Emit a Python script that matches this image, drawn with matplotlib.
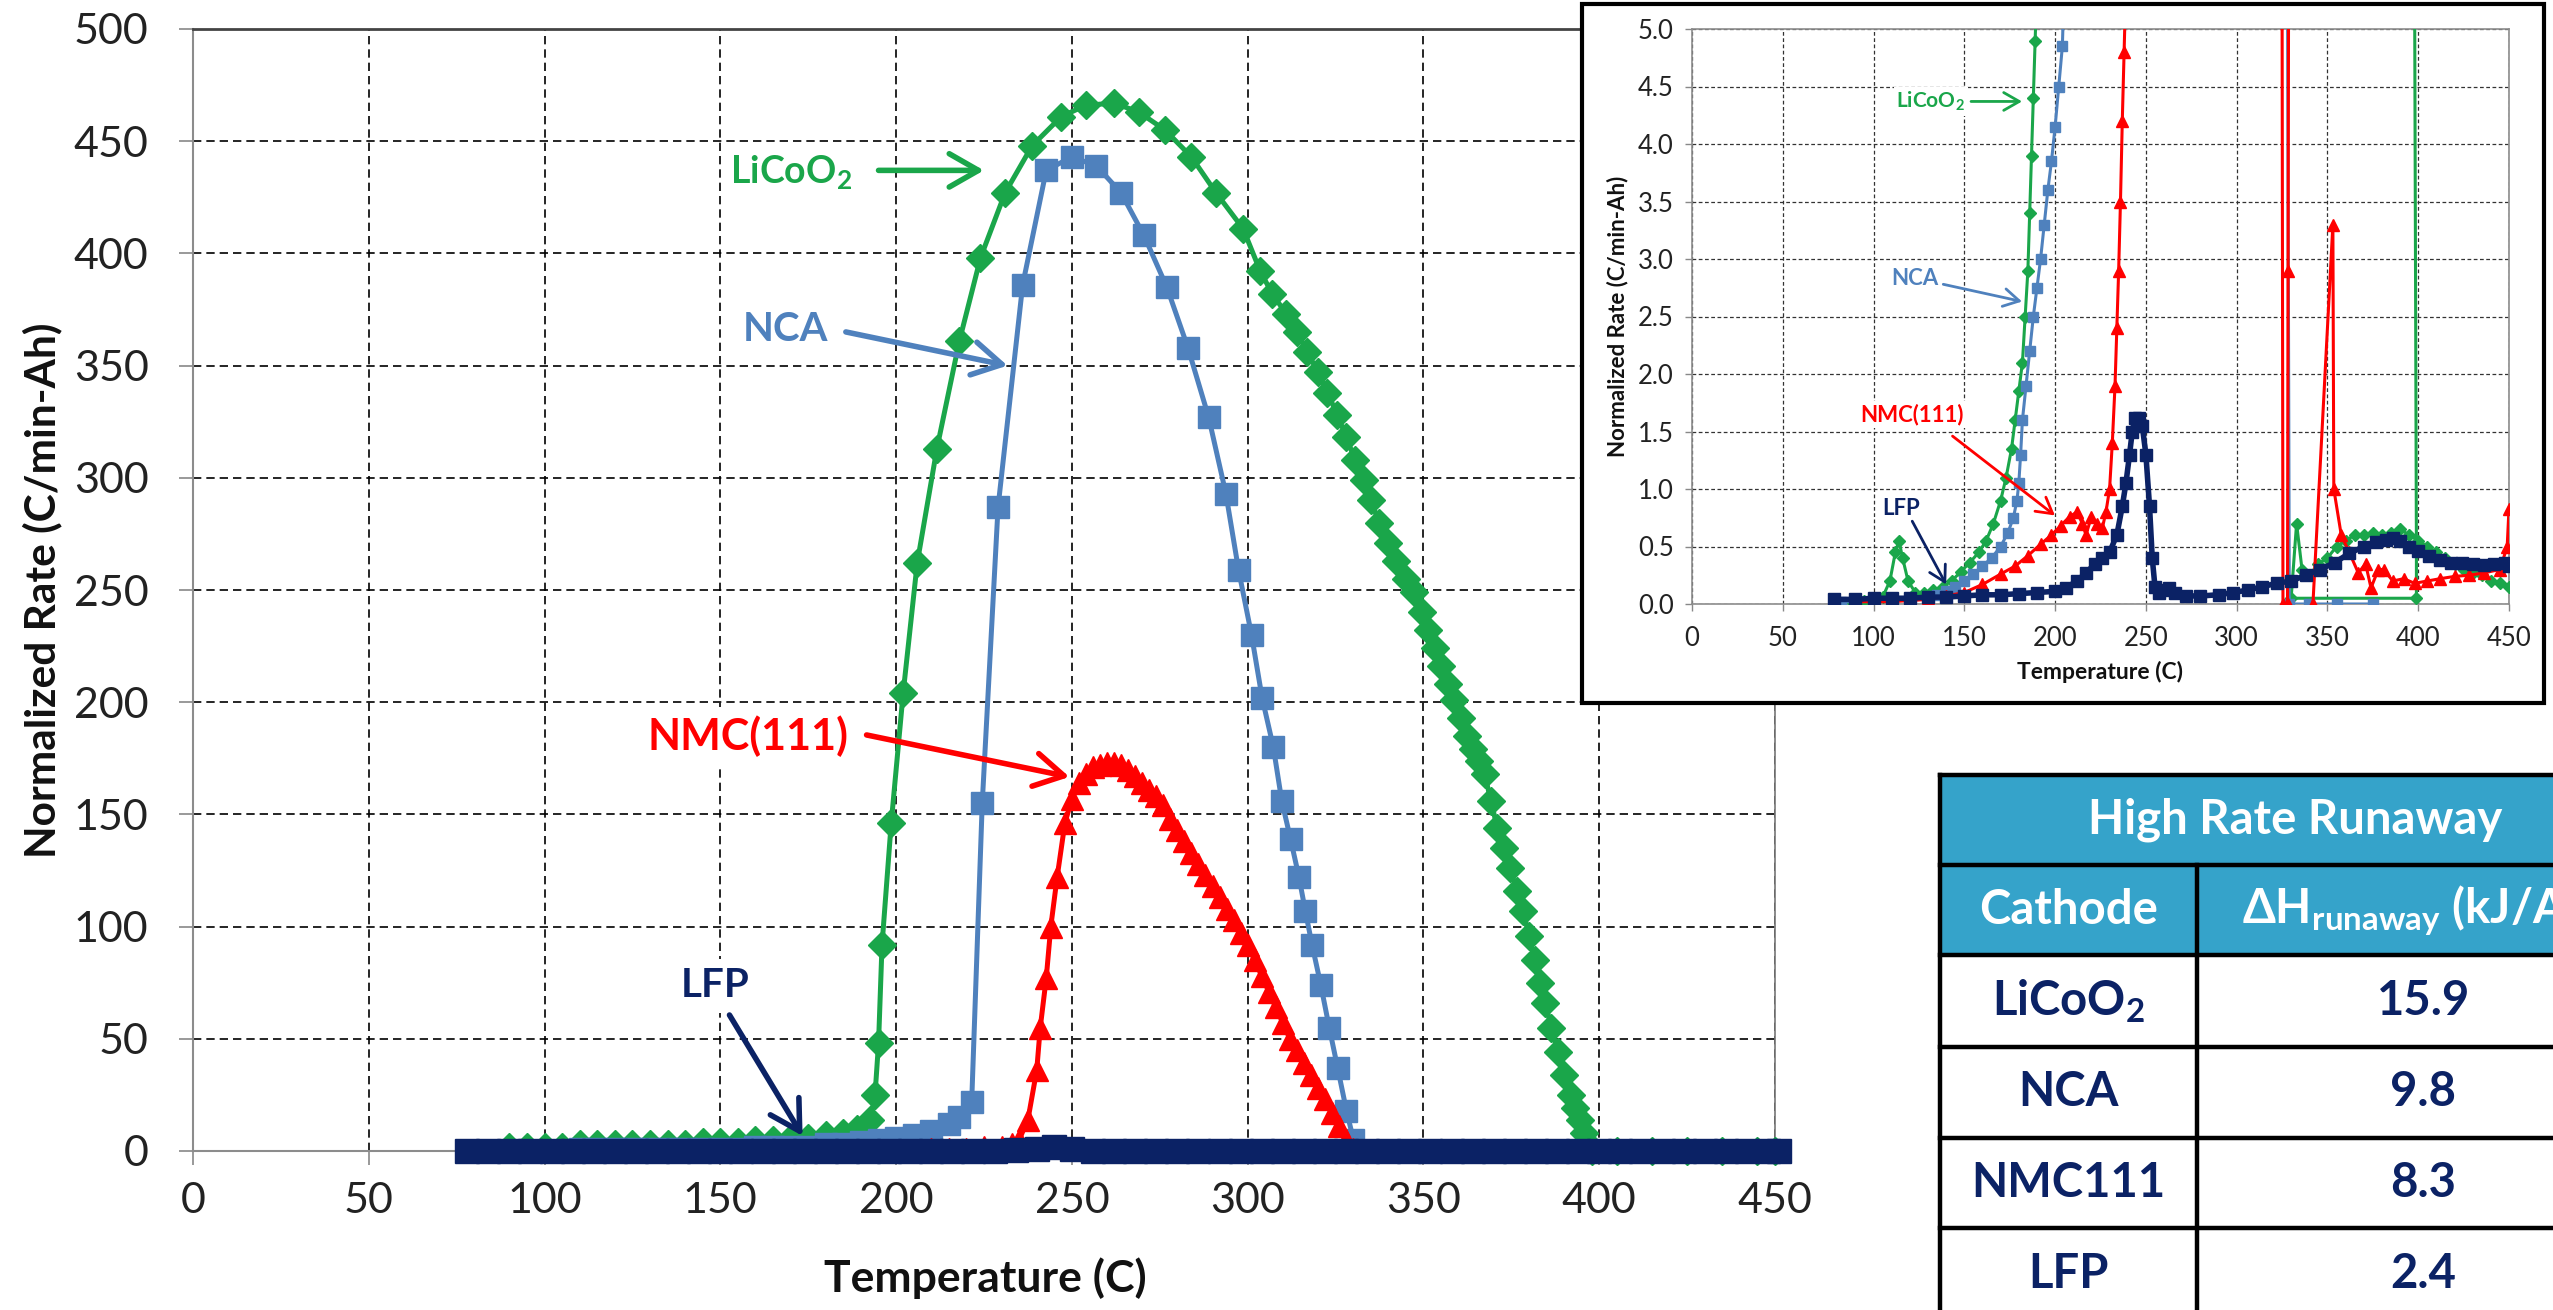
import matplotlib.pyplot as plt
from matplotlib.patches import Rectangle

plt.rcParams['font.family'] = ['Lato', 'DejaVu Sans']
plt.rcParams['mathtext.fontset'] = 'custom'
plt.rcParams['mathtext.rm'] = 'Lato'
plt.rcParams['mathtext.bf'] = 'Lato:bold'

GREEN = '#1aa64a'
BLUE = '#4f81bd'
RED = '#ff0000'
NAVY = '#0b2265'
HEAD = '#35a3ca'

# ---------------- main chart data (Temperature C, rate C/min-Ah) ----------------
lco_T = [90, 95, 100, 105, 110, 115, 120, 125, 130, 135, 140, 145, 150, 155, 160, 165, 170, 175, 180, 185,
         189, 192.7, 194, 195, 196, 198.6, 202, 206, 211.6, 218, 224, 231, 238.7, 247, 254, 262, 269, 276.5,
         284, 291, 298.7, 303.6, 307, 311, 314, 317, 320, 322.7, 325.5, 328.1, 330.5, 333, 335, 337.4, 340,
         342.3, 345, 347.3, 349.5, 351.4, 353.3, 355.1, 357, 358.8, 360.6, 362.5, 364, 365.7, 367.4, 369.2,
         371, 372.8, 374.7, 376.5, 378.4, 380, 381.6, 383.1, 384.6, 386.4, 388.2, 390, 391.9, 393.2, 394.4,
         395.6, 396.8, 398, 405, 415, 425, 435, 445, 450]
lco_rate = [2, 2, 2, 2, 3, 3, 3, 3, 3, 3, 3, 4, 4, 4, 5, 5, 6, 6, 7, 8,
            10, 14, 25, 48, 92, 146, 204, 262, 313, 361, 398, 427, 448, 461, 466, 467, 463, 455,
            443, 427, 411, 392, 382, 373, 365, 356, 347, 338, 328, 318, 308, 299, 290, 280, 271,
            263, 255, 249, 240, 232, 224, 216, 208, 201, 193, 185, 179, 174, 168, 156,
            144, 135, 126, 116, 107, 96, 85, 75, 66, 55, 44, 34, 25, 19, 14,
            8, 3, 0, 0, 0, 0, 0, 0, 0]

nca_T = [80, 85, 90, 95, 100, 105, 110, 115, 120, 125, 130, 135, 140, 145, 150, 155, 160, 165, 170, 175,
         180, 185, 190, 195, 200, 205, 210, 215, 218, 221.5, 224.5, 229, 236, 242.7, 250, 257, 264, 270.5,
         277, 283, 288.9, 293.8, 297.4, 301.1, 304.1, 307.3, 309.7, 312.2, 314.6, 316.4, 318.3, 320.8, 323.2,
         325.6, 328.1, 330.1, 332, 340, 350, 360, 370]
nca_rate = [0, 0, 0, 0, 0, 0, 1, 1, 1, 1, 1, 1, 1, 1, 1, 1, 2, 2, 2, 2,
            3, 3, 4, 5, 6, 7, 9, 12, 15, 22, 155, 287, 386, 437, 443, 439, 427, 408,
            385, 358, 327, 293, 259, 230, 202, 180, 156, 139, 122, 107, 92, 74, 55,
            37, 18, 5, 0, 0, 0, 0, 0]

nmc_T = [85, 90, 95, 100, 105, 110, 115, 120, 125, 130, 135, 140, 145, 150, 155, 160, 165, 170, 175, 180,
         185, 190, 195, 200, 205, 210, 215, 220, 225, 230,
         233, 235, 237.5, 240, 241, 242.7, 244, 245.8, 248, 250, 252, 254, 256, 258, 260, 262, 264, 266, 268,
         270, 272, 274, 276, 278, 280, 282, 284, 286, 288, 290, 292, 294, 296, 298, 300, 302, 304, 306, 308,
         310, 312, 314, 316, 318, 320, 322, 324, 326, 328, 330, 340, 350, 360, 370, 380, 390, 400, 410, 420,
         430, 440, 450]
nmc_rate = [0, 0, 0, 0, 0, 0, 0, 0, 0, 0, 0, 0, 0, 0, 0, 0, 0, 0, 0, 0,
            0, 0, 0, 0, 0, 1, 1, 1, 2, 2,
            3, 5, 14, 36, 55, 77, 100, 122, 146, 157, 164, 168, 171, 172, 173, 173, 172, 170, 167,
            164, 161, 158, 154, 148, 143, 138, 133, 128, 123, 118, 113, 108, 103, 97, 92, 85, 78, 71, 64,
            57, 50, 45, 39, 34, 28, 23, 17, 11, 5, 1, 0, 0, 0, 0, 0, 0, 0, 0, 0,
            0, 0, 0]

lfp_T = [78, 84, 90, 96, 102, 108, 114, 120, 126, 132, 138, 144, 150, 156, 162, 168, 174, 180, 186, 192,
         198, 204, 210, 216, 222, 228, 234, 240, 245, 250, 256, 262, 268, 274, 280, 286, 292, 298, 304, 310,
         316, 322, 328, 334, 340, 346, 352, 358, 364, 370, 376, 382, 388, 394, 400, 406, 412, 418, 424, 430,
         436, 442, 448, 451]
lfp_rate = [0, 0, 0, 0, 0, 0, 0, 0, 0, 0, 0, 0, 0, 0, 0, 0, 0, 0, 0, 0,
            0, 0, 0, 0, 0, 0, 0.5, 1, 2, 1, 0, 0, 0, 0, 0, 0, 0, 0, 0, 0,
            0, 0, 0, 0, 0, 0, 0, 0, 0, 0, 0, 0, 0, 0, 0, 0, 0, 0, 0, 0,
            0, 0, 0, 0]

# ---------------- inset data (zoom 0-5 C/min-Ah) ----------------
nan = float('nan')
in_lco_T = [88, 95, 100, 105, 109, 112, 114, 116, 119, 123, 128, 133, 138, 143, 148, 153, 158, 162, 166, 170,
            173, 176, 178, 180, 182, 183.5, 185, 186, 187, 188, 189, 190,
            398, 399, 399, 330, 333, 336, 340, 345, 350, 355, 360, 365, 370, 375, 380, 385, 390, 395, 400,
            405, 410, 415, 420, 425, 430, 435, 440, 445, 450]
in_lco_rate = [0.02, 0.03, 0.04, 0.06, 0.2, 0.45, 0.55, 0.4, 0.2, 0.1, 0.1, 0.12, 0.15, 0.2, 0.28, 0.36, 0.45,
               0.55, 0.7, 0.9, 1.1, 1.35, 1.6, 1.85, 2.1, 2.5, 2.9, 3.4, 3.9, 4.4, 4.9, 5.4,
               5.4, 0.5, 0.05, 0.05, 0.7, 0.3, 0.25, 0.35, 0.4, 0.5, 0.55, 0.6, 0.6, 0.62, 0.6, 0.62, 0.65,
               0.6, 0.55, 0.5, 0.45, 0.4, 0.35, 0.3, 0.27, 0.25, 0.2, 0.18, 0.15]

in_nca_T = [82, 90, 100, 110, 120, 130, 135, 140, 145, 150, 155, 160, 165, 170, 174, 177, 179, 180, 181, 182,
            184, 186, 188, 190, 192, 194, 196, 198, 200, 202, 204, 205,
            328, 329, 340, 355, 375]
in_nca_rate = [0.02, 0.02, 0.03, 0.03, 0.04, 0.06, 0.08, 0.11, 0.15, 0.2, 0.26, 0.33, 0.4, 0.5, 0.62, 0.75,
               0.9, 1.05, 1.3, 1.6, 1.9, 2.2, 2.5, 2.75, 3.0, 3.3, 3.6, 3.85, 4.15, 4.5, 4.85, 5.4,
               5.4, 0.0, 0.0, 0.0, 0.0]

in_nmc_T = [90, 100, 110, 120, 130, 140, 150, 160, 170, 178, 185, 192, 198, 203, 208, 212, 215, 217, 220, 223,
            226, 228, 230, 231.5, 233, 234, 235, 236, 237, 238, 239,
            325, 325.5, 328, 328.3, 328.6, nan,
            342, 353, 353.5, 357.6, 362, 367, 371, 374, 378, 381, 386, 392, 398, 405, 412, 420, 428, 436,
            445, 449, 450]
in_nmc_rate = [0.02, 0.02, 0.02, 0.03, 0.04, 0.07, 0.1, 0.17, 0.26, 0.33, 0.42, 0.52, 0.6, 0.68, 0.76, 0.8,
               0.7, 0.6, 0.76, 0.7, 0.66, 0.8, 1.0, 1.4, 1.9, 2.4, 2.9, 3.5, 4.2, 4.8, 5.4,
               5.4, 0.0, 0.0, 2.9, 5.4, nan,
               0.0, 3.3, 1.0, 0.6, 0.45, 0.27, 0.35, 0.14, 0.3, 0.3, 0.2, 0.22, 0.18, 0.2, 0.22, 0.24, 0.25,
               0.27, 0.3, 0.5, 0.83]

in_lfp_T = [78, 90, 100, 110, 120, 130, 140, 150, 160, 170, 180, 190, 200, 206, 212, 217, 222, 226, 230, 234,
            237, 239, 241, 242.5, 244, 246, 248, 250, 252, 253.5, 255, 257, 260, 263, 266, 272, 280, 290, 298,
            306, 314, 322, 330, 338, 346, 354, 362, 370, 377, 382, 386, 390, 395, 400, 406, 412, 418, 424, 430,
            436, 442, 448, 450]
in_lfp_rate = [0.04, 0.04, 0.05, 0.05, 0.05, 0.06, 0.06, 0.07, 0.08, 0.08, 0.09, 0.1, 0.11, 0.14, 0.2, 0.27,
               0.35, 0.4, 0.45, 0.6, 0.85, 1.05, 1.3, 1.5, 1.62, 1.62, 1.55, 1.3, 0.85, 0.4, 0.15, 0.1, 0.12,
               0.14, 0.1, 0.07, 0.07, 0.08, 0.1, 0.12, 0.15, 0.18, 0.2, 0.25, 0.3, 0.36, 0.44, 0.5, 0.54, 0.56,
               0.57, 0.55, 0.5, 0.46, 0.42, 0.38, 0.36, 0.36, 0.35, 0.34, 0.35, 0.36, 0.33]

# ---------------- table ----------------
table_title = 'High Rate Runaway'
table_cols = ['Cathode', 'ΔH$_{\\mathbf{runaway}}$ (kJ/Ah)']
cathodes = ['LiCoO$_{\\mathbf{2}}$', 'NCA', 'NMC111', 'LFP']
dh_runaway = [15.9, 9.8, 8.3, 2.4]

W, H = 2553, 1310
fig = plt.figure(figsize=(W / 100, H / 100), dpi=100)


def fx(px):
    return px / W


def fy(py):
    return 1 - py / H


def label(axis, x, y, txt, color, size, bbox_pad):
    axis.text(x, y, txt, color=color, fontsize=size, fontweight='bold', ha='center', va='center',
              bbox=dict(facecolor='white', edgecolor='none', pad=bbox_pad), zorder=7)


def arrow(axis, xy0, xy1, color, lw, scale):
    axis.annotate('', xy=xy1, xytext=xy0,
                  arrowprops=dict(arrowstyle='->,head_length=0.7,head_width=0.4', color=color,
                                  lw=lw, mutation_scale=scale, shrinkA=0, shrinkB=0), zorder=8)


# ---------------- main axes ----------------
ax = fig.add_axes([fx(193), fy(1151), fx(1775) - fx(193), fy(29) - fy(1151)])
ax.set_zorder(1)
ax.set_xlim(0, 450)
ax.set_ylim(0, 500)
ax.set_xticks(range(0, 451, 50))
ax.set_yticks(range(0, 501, 50))
ax.set_axisbelow(True)
ax.grid(True, color='black', lw=1.2, linestyle=(0, (5, 3)))
ax.tick_params(axis='both', labelsize=31, labelcolor='#222222', color='#888888',
               length=10, width=1.2, direction='out')
ax.tick_params(axis='y', pad=22)
ax.tick_params(axis='x', pad=12)
for s in ['left', 'bottom']:
    ax.spines[s].set_color('#8c8c8c')
    ax.spines[s].set_linewidth(1.5)
ax.spines['top'].set_color('#444444')
ax.spines['top'].set_linewidth(2)
ax.spines['right'].set_color('#777777')
ax.spines['right'].set_linewidth(1.2)

ax.plot(lco_T, lco_rate, color=GREEN, lw=3.6, marker='D', ms=14, clip_on=False, zorder=3)
ax.plot(nca_T, nca_rate, color=BLUE, lw=3.6, marker='s', ms=16, clip_on=False, zorder=4)
ax.plot(nmc_T, nmc_rate, color=RED, lw=3.6, marker='^', ms=16, clip_on=False, zorder=5)
ax.plot(lfp_T, lfp_rate, color=NAVY, lw=4, marker='s', ms=17, clip_on=False, zorder=6)

fig.text(fx(42), fy(590), 'Normalized Rate (C/min-Ah)', rotation=90, ha='center', va='center',
         fontsize=30.5, fontweight='bold', color='#111111')
fig.text(fx(985), fy(1278), 'Temperature (C)', ha='center', va='center',
         fontsize=32, fontweight='bold', color='#111111')

label(ax, 170, 436, 'LiCoO$_{\\mathbf{2}}$', GREEN, 27, 6)
arrow(ax, (195, 437), (225, 437), GREEN, 4, 30)
label(ax, 168.5, 366, 'NCA', BLUE, 29, 6)
arrow(ax, (185.7, 365), (231.7, 350), BLUE, 4, 30)
label(ax, 158, 185, 'NMC(111)', RED, 31, 6)
arrow(ax, (191.6, 185.4), (249.3, 166.7), RED, 4, 30)
label(ax, 148.5, 73.6, 'LFP', NAVY, 29, 6)
arrow(ax, (152.6, 60.6), (173.4, 6.7), NAVY, 4, 30)

# ---------------- inset ----------------
fig.patches.append(Rectangle((fx(1582), fy(703)), fx(2544) - fx(1582), fy(4) - fy(703),
                             transform=fig.transFigure, facecolor='white', edgecolor='black',
                             lw=3, zorder=1.5))

axi = fig.add_axes([fx(1692), fy(604), fx(2509) - fx(1692), fy(29) - fy(604)])
axi.set_zorder(2)
axi.set_xlim(0, 450)
axi.set_ylim(0, 5)
axi.set_xticks(range(0, 451, 50))
axi.set_yticks([i * 0.5 for i in range(11)])
axi.set_yticklabels([f'{i * 0.5:.1f}' for i in range(11)])
axi.set_axisbelow(True)
axi.grid(True, color='#333333', lw=0.9, linestyle=(0, (3, 2)))
axi.tick_params(axis='both', labelsize=18.5, labelcolor='#222222', color='#888888',
                length=5, width=1, direction='out')
axi.tick_params(axis='y', pad=8)
axi.tick_params(axis='x', pad=11)
for s in ['left', 'bottom', 'right', 'top']:
    axi.spines[s].set_color('#8c8c8c')
    axi.spines[s].set_linewidth(1.2)

axi.plot(in_lco_T, in_lco_rate, color=GREEN, lw=2.2, marker='D', ms=6, zorder=3)
axi.plot(in_nca_T, in_nca_rate, color=BLUE, lw=2.2, marker='s', ms=7, zorder=4)
axi.plot(in_nmc_T, in_nmc_rate, color=RED, lw=2.2, marker='^', ms=8, zorder=5)
axi.plot(in_lfp_T, in_lfp_rate, color=NAVY, lw=4, marker='s', ms=8, zorder=6)

fig.text(fx(1618), fy(316), 'Normalized Rate (C/min-Ah)', rotation=90, ha='center', va='center',
         fontsize=16, fontweight='bold', color='#111111')
fig.text(fx(2100), fy(672), 'Temperature (C)', ha='center', va='center',
         fontsize=16.5, fontweight='bold', color='#111111')

label(axi, 131.5, 4.37, 'LiCoO$_{\\mathbf{2}}$', GREEN, 15, 2)
arrow(axi, (153.7, 4.37), (181.8, 4.37), GREEN, 2, 16)
label(axi, 123, 2.83, 'NCA', BLUE, 16, 2)
arrow(axi, (138.4, 2.78), (181.8, 2.63), BLUE, 2, 16)
label(axi, 121.3, 1.65, 'NMC(111)', RED, 16, 2)
arrow(axi, (143.5, 1.46), (199.9, 0.77), RED, 2, 16)
label(axi, 115, 0.83, 'LFP', NAVY, 16, 2)
arrow(axi, (121.3, 0.72), (140, 0.17), NAVY, 2, 16)

# ---------------- table (drawn in pixel coordinates) ----------------
axt = fig.add_axes([0, 0, 1, 1])
axt.set_zorder(3)
axt.set_xlim(0, W)
axt.set_ylim(H, 0)
axt.axis('off')
axt.patch.set_alpha(0)

t_left, t_mid, t_right = 1940, 2197, 2650
rows = [775, 865, 955, 1047, 1138, 1228, 1319]
axt.add_patch(Rectangle((t_left, rows[0]), t_right - t_left, rows[2] - rows[0],
                        facecolor=HEAD, edgecolor='none'))
for y in rows:
    axt.plot([t_left, t_right], [y, y], color='black', lw=3.2, solid_capstyle='projecting')
axt.plot([t_left, t_left], [rows[0], rows[-1]], color='black', lw=3.2)
axt.plot([t_mid, t_mid], [rows[1], rows[-1]], color='black', lw=3.2)

c1 = (t_left + t_mid) / 2
c2 = (t_mid + t_right) / 2
axt.text((t_left + t_right) / 2, (rows[0] + rows[1]) / 2, table_title, color='white',
         fontsize=34, fontweight='bold', ha='center', va='center')
axt.text(c1, (rows[1] + rows[2]) / 2, table_cols[0], color='white',
         fontsize=34, fontweight='bold', ha='center', va='center')
axt.text(c2, (rows[1] + rows[2]) / 2, table_cols[1], color='white',
         fontsize=34, fontweight='bold', ha='center', va='center')
for i, (name, val) in enumerate(zip(cathodes, dh_runaway)):
    yc = (rows[i + 2] + rows[i + 3]) / 2
    axt.text(c1, yc, name, color=NAVY, fontsize=34, fontweight='bold', ha='center', va='center')
    axt.text(c2, yc, f'{val:.1f}', color=NAVY, fontsize=34, fontweight='bold', ha='center', va='center')

fig.savefig('out.png', dpi=100)
